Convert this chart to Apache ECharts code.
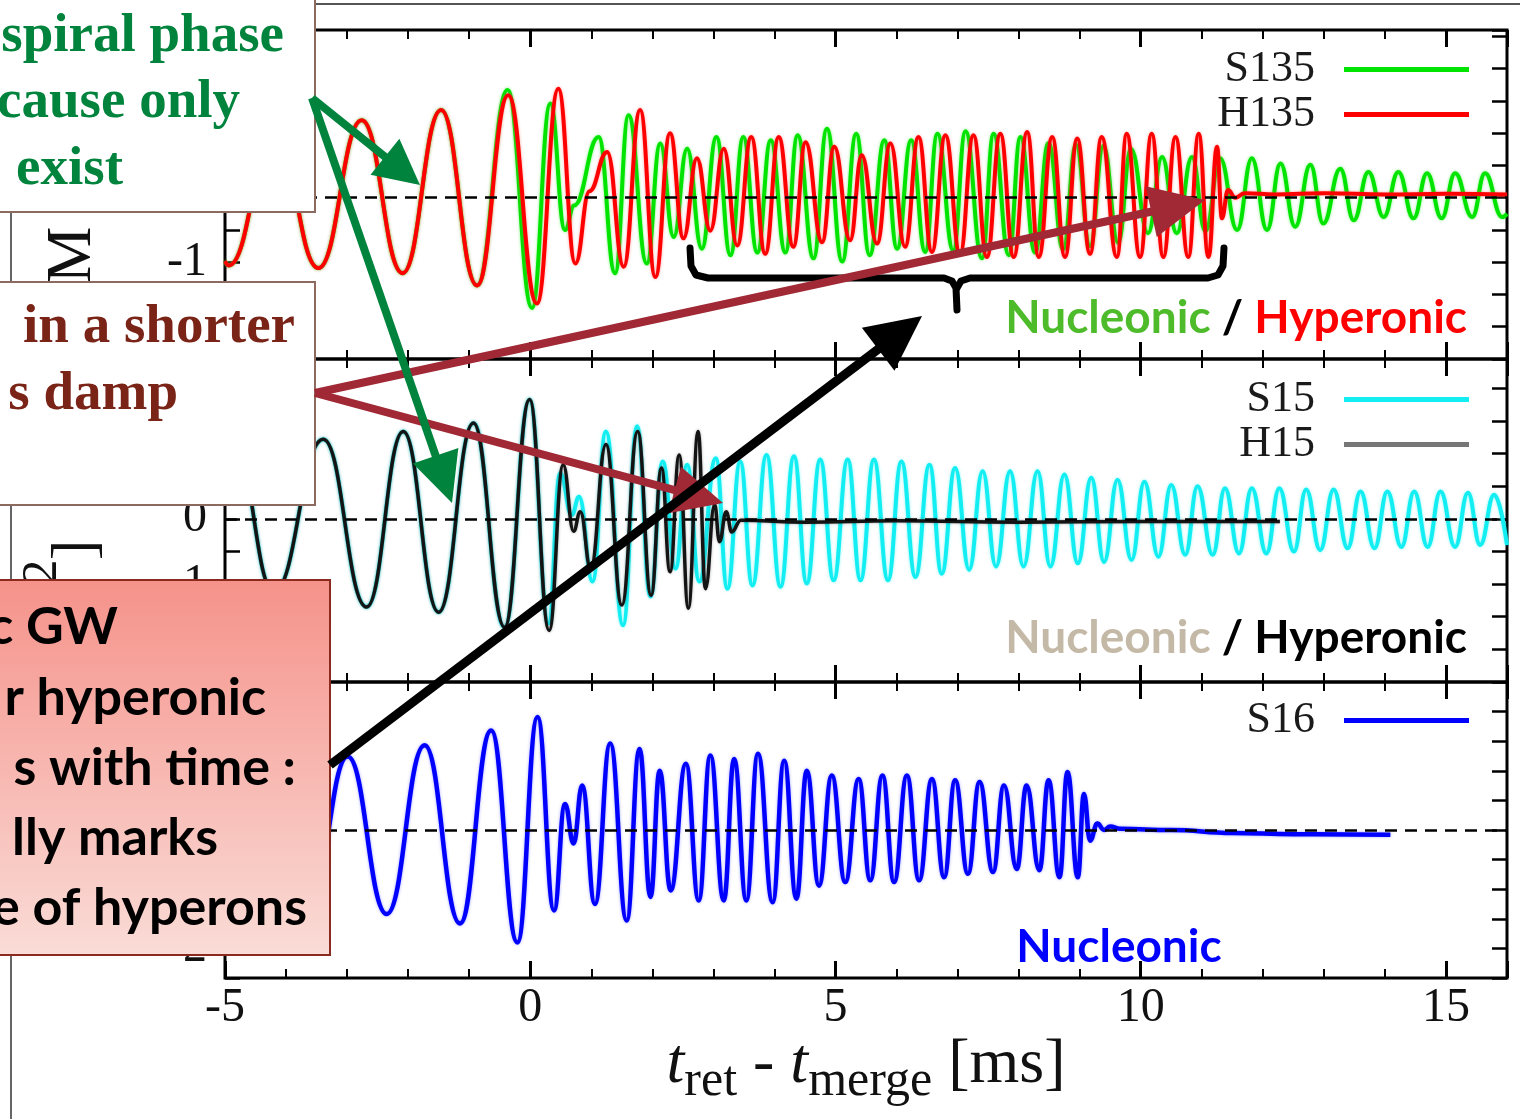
<!DOCTYPE html>
<html><head><meta charset="utf-8"><title>GW waveforms</title>
<script src="https://cdn.jsdelivr.net/npm/echarts@6.0.0/dist/echarts.min.js"></script>
<style>html,body{margin:0;padding:0;background:#fff;overflow:hidden}#chart{width:1520px;height:1119px}</style>
</head><body><div id="chart"></div>
<script>
// ---- tick labels ----
const xTickValues = [-5, 0, 5, 10, 15];
const yTickValues = [-2, -1, 0, 1, 2];

// ---- top panel: S135 (nucleonic) / H135 (hyperonic), extrema ----
const s135T = [-5.0,-4.94,-4.18,-3.47,-2.76,-2.09,-1.46,-0.87,-0.37,0.03,0.33,0.57,0.72,1.12,1.39,1.61,1.91,2.13,2.35,2.57,2.81,3.05,3.28,3.49,3.72,3.94,4.18,4.38,4.64,4.86,5.11,5.34,5.56,5.80,6.01,6.24,6.47,6.67,6.93,7.13,7.40,7.59,7.84,8.03,8.27,8.49,8.73,8.94,9.17,9.39,9.63,9.84,10.12,10.35,10.59,10.84,11.06,11.30,11.58,11.82,12.07,12.29,12.53,12.78,12.99,13.27,13.49,13.73,13.98,14.22,14.47,14.69,14.93,15.15,15.43,15.64,15.92,16.0];
const s135H = [-0.98,-1.05,1.0,-1.09,1.20,-1.17,1.36,-1.36,1.67,-1.71,1.46,-0.50,-0.12,0.94,-1.17,1.28,-1.02,0.84,-0.61,0.76,-0.79,0.94,-0.89,0.94,-0.85,0.89,-0.85,0.97,-0.94,1.07,-0.99,0.99,-0.89,0.89,-0.79,0.89,-0.84,0.99,-0.82,1.03,-0.94,0.99,-0.89,0.94,-0.85,0.85,-0.80,0.82,-0.75,0.80,-0.70,0.76,-0.55,0.63,-0.55,0.63,-0.52,0.61,-0.50,0.61,-0.50,0.53,-0.45,0.51,-0.40,0.45,-0.35,0.40,-0.30,0.40,-0.32,0.38,-0.32,0.38,-0.30,0.38,-0.30,-0.25];
const h135T = [-5.0,-4.94,-4.18,-3.47,-2.76,-2.09,-1.46,-0.87,-0.36,0.11,0.46,0.74,0.97,1.26,1.53,1.80,2.05,2.29,2.51,2.73,2.95,3.17,3.39,3.62,3.85,4.07,4.31,4.51,4.78,4.98,5.24,5.43,5.68,5.90,6.14,6.36,6.58,6.80,7.04,7.26,7.48,7.70,7.92,8.14,8.33,8.55,8.76,8.96,9.17,9.36,9.61,9.77,9.99,10.18,10.37,10.57,10.78,10.95,11.11,11.25,11.33,11.43,11.55,11.7,12.2,13.0,14.0,15.0,16.0];
const h135H = [-0.98,-1.05,1.0,-1.09,1.20,-1.17,1.36,-1.36,1.59,-1.64,1.69,-1.02,0.10,0.71,-1.07,1.36,-1.23,1.00,-0.63,0.61,-0.51,0.76,-0.74,0.94,-0.87,0.94,-0.76,0.86,-0.69,0.79,-0.66,0.66,-0.71,0.84,-0.76,0.94,-0.84,0.97,-0.87,0.97,-0.92,0.99,-0.92,1.02,-0.92,0.94,-0.92,0.92,-0.87,0.94,-0.92,0.99,-0.92,0.99,-0.92,0.94,-0.92,0.99,-0.92,0.79,-0.32,0.12,0.0,0.07,0.05,0.07,0.05,0.06,0.05];

// ---- middle panel: S15 / H15 ----
const s15T = [-5.0,-4.85,-4.2,-3.39,-2.68,-2.08,-1.50,-0.93,-0.42,-0.01,0.30,0.49,0.68,0.80,1.02,1.24,1.52,1.75,1.97,2.17,2.38,2.57,2.77,3.04,3.23,3.44,3.64,3.87,4.10,4.32,4.53,4.75,4.97,5.20,5.41,5.63,5.86,6.08,6.31,6.54,6.74,6.96,7.19,7.41,7.63,7.86,8.08,8.31,8.52,8.75,8.97,9.19,9.40,9.62,9.85,10.06,10.29,10.50,10.73,10.93,11.18,11.38,11.61,11.82,12.06,12.27,12.51,12.71,12.94,13.16,13.39,13.60,13.83,14.04,14.27,14.48,14.70,14.91,15.15,15.36,15.56,15.79,16.0];
const s15H = [0.9,1.12,-1.12,1.22,-1.35,1.34,-1.43,1.47,-1.66,1.83,-1.6,0.70,0.06,0.34,-0.96,1.34,-1.63,1.42,-1.19,0.88,-0.76,0.83,-0.96,0.93,-1.07,0.88,-1.02,0.98,-1.04,0.96,-0.99,0.91,-0.94,0.91,-0.94,0.91,-0.94,0.88,-0.89,0.83,-0.84,0.78,-0.78,0.73,-0.73,0.73,-0.73,0.73,-0.73,0.68,-0.68,0.63,-0.66,0.60,-0.63,0.57,-0.58,0.52,-0.55,0.50,-0.55,0.47,-0.53,0.47,-0.53,0.47,-0.50,0.45,-0.48,0.45,-0.45,0.42,-0.45,0.42,-0.43,0.42,-0.43,0.42,-0.43,0.40,-0.40,0.37,-0.40];
const h15T = [-5.0,-4.85,-4.2,-3.39,-2.68,-2.08,-1.50,-0.93,-0.42,-0.01,0.31,0.54,0.71,0.82,0.99,1.24,1.50,1.76,1.98,2.15,2.29,2.44,2.59,2.75,2.87,3.02,3.10,3.21,3.30,3.45,4.5,6.0,8.0,10.0,12.28];
const h15H = [0.9,1.12,-1.12,1.22,-1.35,1.34,-1.43,1.47,-1.66,1.83,-1.71,0.83,-0.19,0.11,-0.76,1.14,-1.32,1.34,-1.17,0.78,-0.81,0.98,-1.37,1.34,-1.07,0.22,-0.35,0.11,-0.20,-0.02,-0.05,-0.03,-0.05,-0.04,-0.04];

// ---- bottom panel: S16 ----
const s16T = [-5.0,-4.9,-4.25,-3.6,-2.99,-2.35,-1.73,-1.15,-0.64,-0.21,0.12,0.39,0.57,0.71,0.85,1.06,1.31,1.58,1.79,1.97,2.12,2.30,2.55,2.76,2.95,3.17,3.34,3.54,3.73,3.97,4.16,4.36,4.53,4.73,4.94,5.16,5.38,5.57,5.77,5.96,6.17,6.37,6.58,6.78,6.96,7.17,7.36,7.58,7.76,7.97,8.13,8.34,8.49,8.67,8.80,8.97,9.07,9.17,9.29,9.40,9.50,9.66,10.5,11.5,12.5,14.09];
const s16H = [-0.95,-1.0,1.05,-1.15,1.24,-1.42,1.43,-1.58,1.68,-1.90,1.91,-1.36,0.44,-0.23,0.75,-1.25,1.46,-1.53,1.37,-1.13,1.00,-1.02,1.12,-1.19,1.26,-1.19,1.20,-1.19,1.29,-1.22,1.17,-1.16,1.00,-0.94,0.92,-0.88,0.86,-0.85,0.92,-0.88,0.92,-0.85,0.86,-0.80,0.84,-0.74,0.81,-0.71,0.75,-0.66,0.75,-0.68,0.84,-0.80,0.98,-0.80,0.61,-0.18,0.11,0.0,0.06,0.02,0.0,-0.05,-0.07,-0.08];

const zip = (T, H) => T.map((t, i) => [t, H[i]]);
const SERIF = 'Liberation Serif';

const chart = echarts.init(document.getElementById('chart'), null, {renderer: 'canvas'});

const gridRects = [
  {left: 225, top: 30, width: 1282, height: 329},
  {left: 225, top: 359, width: 1282, height: 323},
  {left: 225, top: 682, width: 1282, height: 296}
];
const yRanges = [[-2.5, 2.6], [-2.5, 2.45], [-2.5, 2.5]];

const grid = gridRects.map(r => Object.assign({show: true, borderColor: '#000', borderWidth: 3, backgroundColor: 'transparent'}, r));

const xAxis = [];
const yAxis = [];
for (let g = 0; g < 3; g++) {
  ['bottom', 'top'].forEach(pos => {
    const major = {
      type: 'value', gridIndex: g, position: pos, min: -5, max: 16, interval: 5,
      axisLine: {show: false, onZero: false}, splitLine: {show: false},
      axisTick: {show: true, inside: true, length: 17, lineStyle: {color: '#000', width: 3}},
      axisLabel: {show: g === 2 && pos === 'bottom', margin: 6,
        formatter: v => (xTickValues.indexOf(v) >= 0 ? String(v) : ''),
        fontFamily: SERIF, fontSize: 48, color: '#111'}
    };
    if (g === 2 && pos === 'bottom') {
      major.name = '{i|t}{s|ret}{n| - }{i|t}{s|merge}{n| [ms]}';
      major.nameLocation = 'middle';
      major.nameGap = 60;
      major.nameTextStyle = {
        fontFamily: SERIF, fontSize: 64, color: '#111',
        rich: {
          i: {fontFamily: SERIF, fontStyle: 'italic', fontSize: 64, color: '#111', verticalAlign: 'bottom', lineHeight: 66, padding: [0, 0, 10, 0]},
          n: {fontFamily: SERIF, fontSize: 64, color: '#111', verticalAlign: 'bottom', lineHeight: 66, padding: [0, 0, 10, 0]},
          s: {fontFamily: SERIF, fontSize: 50, color: '#111', verticalAlign: 'bottom', lineHeight: 52}
        }
      };
    }
    xAxis.push(major);
    xAxis.push({
      type: 'value', gridIndex: g, position: pos, min: -5, max: 16, interval: 1,
      axisLine: {show: false, onZero: false}, splitLine: {show: false},
      axisTick: {show: true, inside: true, length: 9, lineStyle: {color: '#000', width: 2}},
      axisLabel: {show: false}
    });
  });
  ['left', 'right'].forEach(pos => {
    yAxis.push({
      type: 'value', gridIndex: g, position: pos, min: yRanges[g][0], max: yRanges[g][1], interval: 0.5,
      axisLine: {show: false, onZero: false}, splitLine: {show: false},
      axisTick: {show: true, inside: true, length: 15, lineStyle: {color: '#000', width: 2.5}},
      axisLabel: {show: pos === 'left', margin: 18, fontFamily: SERIF, fontSize: 48, color: '#111',
        formatter: v => {
          const r = Math.round(v);
          return (Math.abs(v - r) < 1e-6 && yTickValues.indexOf(r) >= 0) ? String(r) : '';
        }}
    });
  });
}

function wave(name, T, H, color, halo, g, width, z, withZeroLine) {
  const s = {
    name, type: 'line', xAxisIndex: 4 * g, yAxisIndex: 2 * g, data: zip(T, H),
    color, showSymbol: false, symbol: 'none', smooth: 0.45, smoothMonotone: 'x',
    lineStyle: {color, width, shadowColor: halo, shadowBlur: 3}, z, silent: true, emphasis: {disabled: true}, animation: false
  };
  if (withZeroLine) {
    s.markLine = {silent: true, symbol: ['none', 'none'], label: {show: false}, animation: false,
      lineStyle: {color: '#000', type: [12, 8], width: 2.5}, data: [{yAxis: 0}]};
  }
  return s;
}

const series = [
  wave('S135', s135T, s135H, '#00e400', 'rgba(0,230,0,0.5)', 0, 4, 2, true),
  wave('H135', h135T, h135H, '#ff0000', 'rgba(255,80,80,0.5)', 0, 4, 3, false),
  wave('S15', s15T, s15H, '#12eef2', 'rgba(18,238,242,0.5)', 1, 4, 2, true),
  wave('H15', h15T, h15H, '#141414', 'rgba(60,60,60,0.4)', 1, 3.5, 3, false),
  wave('S16', s16T, s16H, '#0000ff', 'rgba(80,80,255,0.5)', 2, 4.5, 2, true)
];

const legendBase = {orient: 'vertical', right: 46, align: 'right', icon: 'rect', itemWidth: 125, itemHeight: 5,
  itemGap: 0, selectedMode: false,
  textStyle: {fontFamily: SERIF, fontSize: 44, color: '#1a1a1a', lineHeight: 45, padding: [0, 24, 0, 0]}};
const legend = [
  Object.assign({}, legendBase, {top: 42, data: ['S135', 'H135']}),
  Object.assign({}, legendBase, {top: 372, data: ['S15', {name: 'H15', itemStyle: {color: '#777'}}]}),
  Object.assign({}, legendBase, {top: 693, data: ['S16']})
];

// ---- annotation overlay (slide elements) ----
function arrow(x1, y1, x2, y2, color, w, hl, hw) {
  const dx = x2 - x1, dy = y2 - y1, L = Math.hypot(dx, dy), ux = dx / L, uy = dy / L;
  const bx = x2 - ux * hl, by = y2 - uy * hl, px = -uy, py = ux;
  return [
    {type: 'line', z: 60, shape: {x1, y1, x2: bx + ux * 3, y2: by + uy * 3}, style: {stroke: color, lineWidth: w}},
    {type: 'polygon', z: 60, shape: {points: [[x2, y2], [bx + px * hw, by + py * hw], [bx - px * hw, by - py * hw]]}, style: {fill: color}}
  ];
}
function txt(text, x, y, color, size, family, align, weight) {
  return {type: 'text', z: 70, style: {text, x, y, fill: color, fontSize: size, fontFamily: family,
    fontWeight: weight || 'bold', align: align || 'right', verticalAlign: 'middle'}};
}
const GREEN = '#00843d', MAROON = '#7a2418', ARROWRED = '#a02935';
const graphics = [
  {type: 'line', z: 40, shape: {x1: 316, y1: 4, x2: 1520, y2: 4}, style: {stroke: '#555', lineWidth: 2}},
  {type: 'line', z: 40, shape: {x1: 11, y1: 0, x2: 11, y2: 1119}, style: {stroke: '#333', lineWidth: 1.5}},
  {type: 'text', z: 45, x: 73, y: 255, rotation: Math.PI / 2, style: {text: 'M', x: 0, y: 0, fill: '#111', fontSize: 64, fontFamily: SERIF, align: 'center', verticalAlign: 'middle'}},
  {type: 'text', z: 45, x: 78, y: 550, rotation: Math.PI / 2, style: {text: ']', x: 0, y: 0, fill: '#111', fontSize: 62, fontFamily: SERIF, align: 'center', verticalAlign: 'middle'}},
  {type: 'text', z: 45, x: 43, y: 572, rotation: Math.PI / 2, style: {text: '2', x: 0, y: 0, fill: '#111', fontSize: 50, fontFamily: SERIF, align: 'center', verticalAlign: 'middle'}},
  // box 1
  {type: 'rect', z: 50, shape: {x: -5, y: -5, width: 320, height: 217}, style: {fill: '#fff', stroke: '#8c6a60', lineWidth: 2}},
  txt('spiral phase', 284, 37, GREEN, 55, SERIF),
  txt('cause only', 240, 103, GREEN, 55, SERIF),
  txt('exist', 123, 170, GREEN, 55, SERIF),
  // box 2
  {type: 'rect', z: 50, shape: {x: -5, y: 282, width: 320, height: 223}, style: {fill: '#fff', stroke: '#8c6a60', lineWidth: 2}},
  txt('in a shorter', 295, 328, MAROON, 55, SERIF),
  txt('s damp', 178, 395, MAROON, 55, SERIF),
  // box 3
  {type: 'rect', z: 50, shape: {x: -5, y: 580, width: 335, height: 375},
    style: {fill: new echarts.graphic.LinearGradient(0, 0, 0, 1, [{offset: 0, color: '#f5928a'}, {offset: 1, color: '#fadcd7'}]), stroke: '#8b2a1e', lineWidth: 2}},
  txt('c GW', 118, 627, '#000', 52, 'Lato'),
  txt('r hyperonic', 266, 698, '#000', 52, 'Lato'),
  txt('s with time :', 296, 768, '#000', 52, 'Lato'),
  txt('lly marks', 218, 838, '#000', 52, 'Lato'),
  txt('e of hyperons', 307, 908, '#000', 52, 'Lato'),
  // brace
  {type: 'polyline', z: 55, shape: {points: [[690, 248], [691, 266], [696, 275], [708, 278], [944, 278], [952, 281], [956, 288], [957, 310]]},
    style: {stroke: '#000', lineWidth: 7, fill: null, lineJoin: 'round', lineCap: 'round'}},
  {type: 'polyline', z: 55, shape: {points: [[957, 288], [961, 281], [970, 278], [1208, 278], [1218, 275], [1223, 266], [1224, 248]]},
    style: {stroke: '#000', lineWidth: 7, fill: null, lineJoin: 'round', lineCap: 'round'}},
  // category labels
  {type: 'text', z: 70, style: {text: '{g|Nucleonic} {k|/} {r|Hyperonic}', x: 1467, y: 318, align: 'right', verticalAlign: 'middle',
    fontSize: 46, fontFamily: 'Lato', fontWeight: 'bold', fill: '#000',
    rich: {g: {fill: '#4dbb2a', fontSize: 46, fontFamily: 'Lato', fontWeight: 'bold'},
           k: {fill: '#000', fontSize: 46, fontFamily: 'Lato', fontWeight: 'bold'},
           r: {fill: '#ff0000', fontSize: 46, fontFamily: 'Lato', fontWeight: 'bold'}}}},
  {type: 'text', z: 70, style: {text: '{g|Nucleonic} {k|/} {r|Hyperonic}', x: 1467, y: 638, align: 'right', verticalAlign: 'middle',
    fontSize: 46, fontFamily: 'Lato', fontWeight: 'bold', fill: '#000',
    rich: {g: {fill: '#c4b9a6', fontSize: 46, fontFamily: 'Lato', fontWeight: 'bold'},
           k: {fill: '#000', fontSize: 46, fontFamily: 'Lato', fontWeight: 'bold'},
           r: {fill: '#000', fontSize: 46, fontFamily: 'Lato', fontWeight: 'bold'}}}},
  txt('Nucleonic', 1119, 947, '#0000ff', 46, 'Lato', 'center')
];
graphics.push(...arrow(315, 393, 1205, 200, ARROWRED, 8, 55, 26));
graphics.push(...arrow(315, 393, 723, 503, ARROWRED, 8, 50, 24));
graphics.push(...arrow(312, 98, 420, 185, GREEN, 8, 45, 23));
graphics.push(...arrow(312, 98, 452, 503, GREEN, 8, 50, 24));
graphics.push(...arrow(330, 765, 922, 316, '#000', 9, 55, 27));

chart.setOption({
  animation: false,
  backgroundColor: '#fff',
  grid, xAxis, yAxis, series, legend,
  graphic: {elements: graphics}
});
</script></body></html>
